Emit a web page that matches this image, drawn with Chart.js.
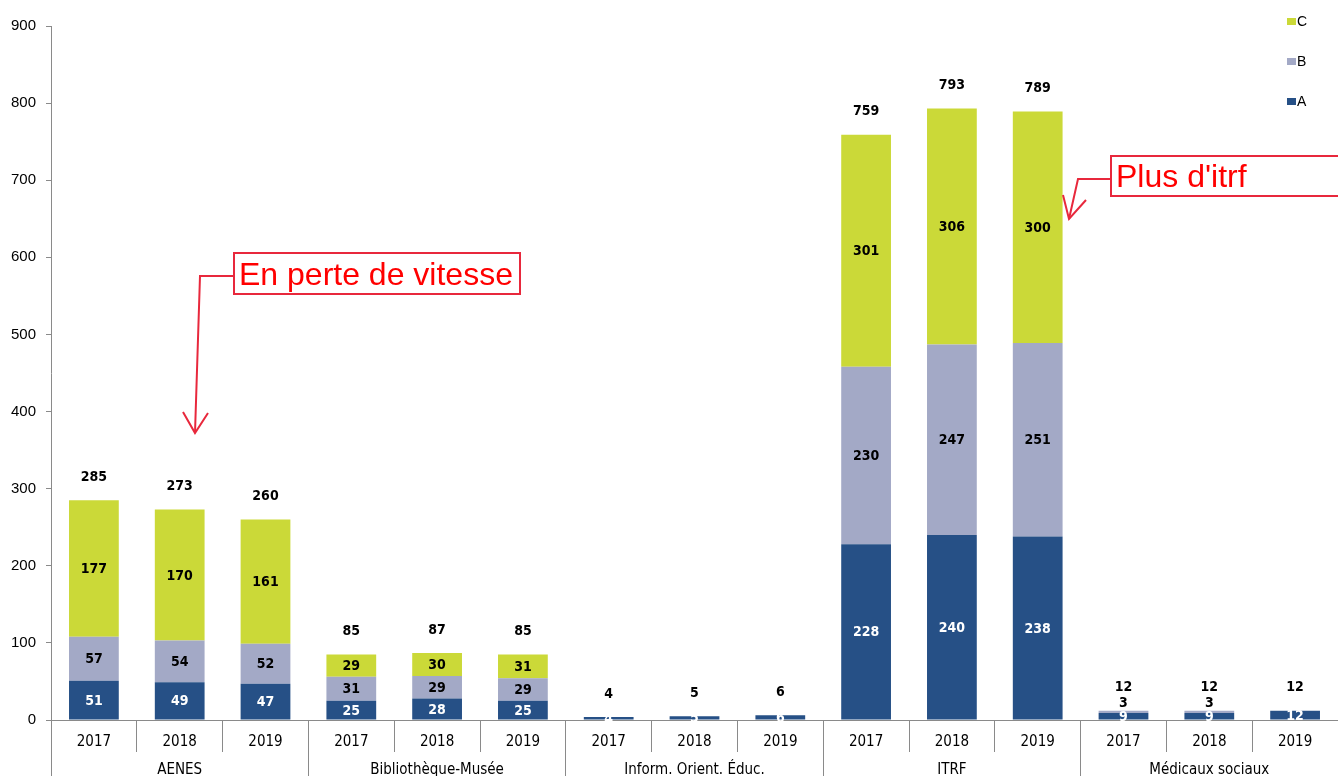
<!DOCTYPE html>
<html>
<head>
<meta charset="utf-8">
<script src="https://cdn.jsdelivr.net/npm/chart.js@4/dist/chart.umd.min.js"></script>
<style>
  html, body { margin: 0; padding: 0; background: #ffffff; overflow: hidden; }
  canvas { display: block; }
</style>
</head>
<body>
<canvas id="c" width="1338" height="776"></canvas>
<script>
// ---- data ----
const years = ['2017','2018','2019','2017','2018','2019','2017','2018','2019','2017','2018','2019','2017','2018','2019'];
const groups = ['AENES', 'Bibliothèque-Musée', 'Inform. Orient. Éduc.', 'ITRF', 'Médicaux sociaux'];
const seriesA = [51, 49, 47, 25, 28, 25, 4, 5, 6, 228, 240, 238, 9, 9, 12];
const seriesB = [57, 54, 52, 31, 29, 29, 0, 0, 0, 230, 247, 251, 3, 3, 0];
const seriesC = [177, 170, 161, 29, 30, 31, 0, 0, 0, 301, 306, 300, 0, 0, 0];
const yTicks = [0, 100, 200, 300, 400, 500, 600, 700, 800, 900];
const noteLeft = 'En perte de vitesse';
const noteRight = "Plus d'itrf";

const colA = '#265086';
const colB = '#A3A9C6';
const colC = '#CBD938';
const axisCol = '#8a8a8a';
const condFont = "'DejaVu Sans Condensed', 'DejaVu Sans', sans-serif";

const totals = seriesA.map((v, i) => v + seriesB[i] + seriesC[i]);

const labelPlugin = {
  id: 'labels',
  afterDatasetsDraw(chart) {
    const ctx = chart.ctx;
    const ys = chart.scales.y;
    ctx.save();
    ctx.font = "bold 14px " + condFont;
    ctx.textAlign = 'center';
    ctx.textBaseline = 'middle';
    chart.data.datasets.forEach((ds, di) => {
      const meta = chart.getDatasetMeta(di);
      meta.data.forEach((bar, i) => {
        const v = ds.data[i];
        if (!v) return;
        const top = Math.min(bar.y, bar.base);
        const bot = Math.max(bar.y, bar.base);
        let y = (top + bot) / 2;
        if (di > 0 && bot - top < 10) y = top - 8;
        ctx.fillStyle = di === 0 ? '#ffffff' : '#000000';
        ctx.fillText(String(v), bar.x, y + 1);
      });
    });
    // totals
    const meta0 = chart.getDatasetMeta(0);
    ctx.fillStyle = '#000000';
    totals.forEach((t, i) => {
      const x = meta0.data[i].x;
      ctx.fillText(String(t), x, ys.getPixelForValue(t) - 23);
    });
    ctx.restore();
  },
  afterDraw(chart) {
    const ctx = chart.ctx;
    ctx.save();
    // legend (C, B, A top to bottom)
    const items = [['C', colC], ['B', colB], ['A', colA]];
    ctx.font = "14px 'Liberation Sans', Arial, sans-serif";
    ctx.textBaseline = 'middle';
    ctx.textAlign = 'left';
    items.forEach((it, k) => {
      const cy = 21 + k * 40;
      ctx.fillStyle = it[1];
      ctx.fillRect(1287, cy - 3, 9, 7);
      ctx.fillStyle = '#000';
      ctx.fillText(it[0], 1297, cy + 1);
    });

    // annotations
    const red = '#E8283C';
    ctx.strokeStyle = red;
    ctx.lineWidth = 2;
    // left note
    ctx.strokeRect(234, 253, 286, 41);
    ctx.beginPath();
    ctx.moveTo(234, 276); ctx.lineTo(200, 276); ctx.lineTo(195, 433);
    ctx.stroke();
    ctx.beginPath();
    ctx.moveTo(183, 412); ctx.lineTo(195, 433); ctx.lineTo(208, 413);
    ctx.stroke();
    // right note
    ctx.strokeRect(1111, 156, 260, 40);
    ctx.beginPath();
    ctx.moveTo(1111, 179); ctx.lineTo(1078, 179); ctx.lineTo(1069, 219);
    ctx.stroke();
    ctx.beginPath();
    ctx.moveTo(1063, 195); ctx.lineTo(1069, 219); ctx.lineTo(1086, 200);
    ctx.stroke();

    ctx.fillStyle = '#FF0000';
    ctx.font = "32px 'Liberation Sans', Arial, sans-serif";
    ctx.textBaseline = 'alphabetic';
    ctx.fillText(noteLeft, 239, 285);
    ctx.fillText(noteRight, 1116, 187);
    ctx.restore();
  }
};

new Chart(document.getElementById('c'), {
  type: 'bar',
  data: {
    labels: years,
    datasets: [
      { label: 'A', data: seriesA, backgroundColor: colA, borderWidth: 0 },
      { label: 'B', data: seriesB, backgroundColor: colB, borderWidth: 0 },
      { label: 'C', data: seriesC, backgroundColor: colC, borderWidth: 0 }
    ]
  },
  options: {
    responsive: false,
    animation: false,
    barPercentage: 0.58,
    categoryPercentage: 1.0,
    layout: { padding: { top: 26, right: 0, bottom: 0, left: 0 } },
    plugins: { legend: { display: false }, tooltip: { enabled: false } },
    scales: {
      x: {
        type: 'category',
        stacked: true,
        offset: true,
        grid: { offset: true, drawOnChartArea: false, drawTicks: true, tickLength: 32, color: axisCol, lineWidth: 1 },
        border: { display: true, color: axisCol, width: 1 },
        ticks: { padding: -19, autoSkip: false, maxRotation: 0, color: '#000', font: { family: condFont, size: 15 } },
        afterFit: (s) => { s.height = 31; }
      },
      x2: {
        type: 'category',
        position: 'bottom',
        labels: groups,
        offset: true,
        grid: { offset: true, drawOnChartArea: false, drawTicks: true, tickLength: 40, color: axisCol, lineWidth: 1 },
        border: { display: false },
        ticks: { padding: -30, autoSkip: false, maxRotation: 0, color: '#000', font: { family: condFont, size: 15 } },
        afterFit: (s) => { s.height = 25; }
      },
      y: {
        stacked: true,
        min: 0,
        max: 900,
        afterBuildTicks: (s) => { s.ticks = yTicks.map(v => ({ value: v })); },
        grid: { drawOnChartArea: false, drawTicks: true, tickLength: 5, color: axisCol },
        border: { display: true, color: axisCol, width: 1 },
        ticks: { padding: 10, color: '#000', font: { family: "'Liberation Sans', Arial, sans-serif", size: 15 } },
        afterFit: (s) => { s.width = 51; }
      }
    }
  },
  plugins: [labelPlugin]
});
</script>
</body>
</html>
